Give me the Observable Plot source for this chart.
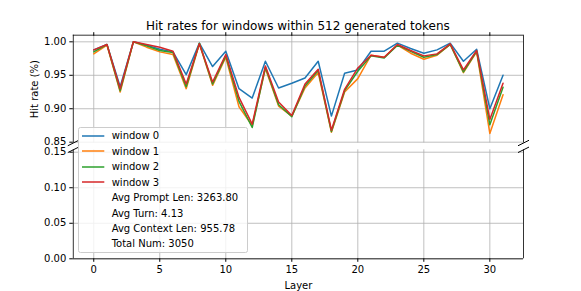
<!DOCTYPE html>
<html>
<head>
<meta charset="utf-8">
<script src="https://cdn.jsdelivr.net/npm/d3@7"></script>
<script src="https://cdn.jsdelivr.net/npm/@observablehq/plot@0.6"></script>
<style>
  html, body { margin: 0; padding: 0; background: white; }
  #wrap { position: relative; width: 581px; height: 291px; font-family: "DejaVu Sans", sans-serif; color: black; overflow: hidden; }
  #title { position: absolute; left: 72.8px; width: 450.2px; top: 18.5px; font-size: 12px; line-height: 14px; text-align: center; white-space: nowrap; }
  .panel { position: absolute; left: 0; }
  #legend { position: absolute; left: 77.7px; top: 126.7px; width: 170.6px; height: 126.6px; box-sizing: border-box;
            border: 1px solid #cccccc; border-radius: 2.5px; background: rgba(255,255,255,0.8); padding-top: 0.6px; font-size: 10px; }
  .row { display: flex; align-items: center; height: 15.43px; white-space: nowrap; }
  .handle { width: 22.3px; height: 6px; margin-left: 3px; flex: none; display: block; overflow: visible; }
  .lab { margin-left: 7.7px; }
</style>
</head>
<body>
<div id="wrap">
  <div id="title"></div>
</div>
<script>
// ---------------- data ----------------
const titleText = "Hit rates for windows within 512 generated tokens";
const yLabel = "Hit rate (%)";
const xLabel = "Layer";
const layers = [0,1,2,3,4,5,6,7,8,9,10,11,12,13,14,15,16,17,18,19,20,21,22,23,24,25,26,27,28,29,30,31];
const seriesNames = ["window 0", "window 1", "window 2", "window 3"];
const seriesColors = ["#1f77b4", "#ff7f0e", "#2ca02c", "#d62728"];
const window0 = [0.988,0.996,0.933,1.000,0.995,0.989,0.985,0.951,0.998,0.963,0.986,0.930,0.916,0.971,0.931,0.938,0.946,0.971,0.889,0.953,0.958,0.986,0.986,0.998,0.990,0.983,0.988,0.998,0.971,0.989,0.900,0.950];
const window1 = [0.982,0.995,0.925,1.000,0.992,0.985,0.981,0.930,0.997,0.935,0.977,0.903,0.875,0.960,0.904,0.889,0.931,0.954,0.865,0.925,0.945,0.980,0.977,0.995,0.983,0.974,0.980,0.996,0.954,0.985,0.863,0.921];
const window2 = [0.985,0.996,0.927,1.000,0.994,0.987,0.984,0.933,0.998,0.937,0.979,0.911,0.872,0.962,0.906,0.888,0.934,0.957,0.866,0.927,0.956,0.979,0.976,0.995,0.986,0.977,0.981,0.996,0.955,0.986,0.876,0.932];
const window3 = [0.988,0.996,0.930,1.000,0.996,0.992,0.986,0.937,0.997,0.940,0.981,0.917,0.877,0.964,0.910,0.890,0.937,0.959,0.868,0.929,0.961,0.980,0.977,0.996,0.987,0.979,0.982,0.997,0.958,0.987,0.884,0.938];
const extraLegend = ["Avg Prompt Len: 3263.80", "Avg Turn: 4.13", "Avg Context Len: 955.78", "Total Num: 3050"];
const xTicks = [0,5,10,15,20,25,30];
const topTicks = [0.85,0.90,0.95,1.00];
const bottomTicks = [0.00,0.05,0.10,0.15];
const xDomain = [-1.55, 32.55];
const topDomain = [0.8488, 1.0099];
const bottomDomain = [0, 0.1534];

// ---------------- build ----------------
const allSeries = [window0, window1, window2, window3];
const data = [];
allSeries.forEach((vals, i) => vals.forEach((v, j) => data.push({layer: layers[j], rate: v, series: seriesNames[i]})));

const gridStyle = {stroke: "#b0b0b0", strokeOpacity: 1, strokeWidth: 0.8};
const spineStyle = {stroke: "black", strokeWidth: 0.8};
const slash = { draw(ctx, size) { const r = Math.sqrt(size / Math.PI); ctx.moveTo(-r, r / 2); ctx.lineTo(r, -r / 2); } };
const breakStyle = {symbol: slash, r: 5.5, stroke: "black", fill: "none", strokeWidth: 1};
const fmt = d3.format(".2f");
const plotStyle = {fontFamily: "DejaVu Sans, sans-serif", fontSize: "10px", color: "black", background: "transparent", overflow: "visible"};

const W = 581;
const mL = 72.8, mR = 58;

const topPlot = Plot.plot({
  width: W, height: 146,
  marginLeft: mL, marginRight: mR, marginTop: 34.7, marginBottom: 3.5,
  style: plotStyle,
  x: {domain: xDomain},
  y: {domain: topDomain},
  color: {domain: seriesNames, range: seriesColors},
  marks: [
    Plot.gridX(xTicks, gridStyle),
    Plot.gridY(topTicks, gridStyle),
    Plot.line(data, {x: "layer", y: "rate", stroke: "series", strokeWidth: 1.5}),
    Plot.ruleX(xDomain, spineStyle),
    Plot.ruleY([topDomain[1]], spineStyle),
    Plot.axisY({ticks: topTicks, tickFormat: fmt, tickSize: 3.5, tickPadding: 3.5, label: yLabel, labelAnchor: "center", labelArrow: "none", labelOffset: 42}),
    Plot.axisX({anchor: "top", ticks: xTicks, tickSize: 3.5, tickFormat: () => "", label: null}),
    Plot.dot([0], {...breakStyle, frameAnchor: "bottom-left"}),
    Plot.dot([0], {...breakStyle, frameAnchor: "bottom-right"})
  ]
});

const bottomPlot = Plot.plot({
  width: W, height: 145,
  marginLeft: mL, marginRight: mR, marginTop: 3.3, marginBottom: 32.7,
  style: plotStyle,
  x: {domain: xDomain},
  y: {domain: bottomDomain},
  marks: [
    Plot.gridX(xTicks, gridStyle),
    Plot.gridY(bottomTicks, gridStyle),
    Plot.ruleX(xDomain, spineStyle),
    Plot.ruleY([bottomDomain[0]], spineStyle),
    Plot.axisY({ticks: bottomTicks, tickFormat: fmt, tickSize: 3.5, tickPadding: 3.5, label: null}),
    Plot.axisX({ticks: xTicks, tickSize: 3.5, tickPadding: 3.5, label: xLabel, labelAnchor: "center", labelArrow: "none", labelOffset: 30}),
    Plot.dot([0], {...breakStyle, frameAnchor: "top-left"}),
    Plot.dot([0], {...breakStyle, frameAnchor: "top-right"})
  ]
});

const wrap = document.getElementById("wrap");
document.getElementById("title").textContent = titleText;
topPlot.classList.add("panel"); topPlot.style.top = "0px";
bottomPlot.classList.add("panel"); bottomPlot.style.top = "146px";
wrap.appendChild(topPlot);
wrap.appendChild(bottomPlot);

// legend
const NS = "http://www.w3.org/2000/svg";
function makeHandle(color) {
  const s = document.createElementNS(NS, "svg");
  s.setAttribute("class", "handle");
  s.setAttribute("width", "22.3"); s.setAttribute("height", "6");
  if (color) {
    const l = document.createElementNS(NS, "line");
    l.setAttribute("x1", "0"); l.setAttribute("x2", "22.3");
    l.setAttribute("y1", "3"); l.setAttribute("y2", "3");
    l.setAttribute("stroke", color); l.setAttribute("stroke-width", "1.5");
    s.appendChild(l);
  }
  return s;
}
const legend = document.createElement("div");
legend.id = "legend";
seriesNames.forEach((name, i) => {
  const row = document.createElement("div"); row.className = "row";
  const t = document.createElement("span"); t.className = "lab"; t.textContent = name;
  row.appendChild(makeHandle(seriesColors[i])); row.appendChild(t); legend.appendChild(row);
});
extraLegend.forEach(txt => {
  const row = document.createElement("div"); row.className = "row";
  const t = document.createElement("span"); t.className = "lab"; t.textContent = txt;
  row.appendChild(makeHandle(null)); row.appendChild(t); legend.appendChild(row);
});
wrap.appendChild(legend);
</script>
</body>
</html>
